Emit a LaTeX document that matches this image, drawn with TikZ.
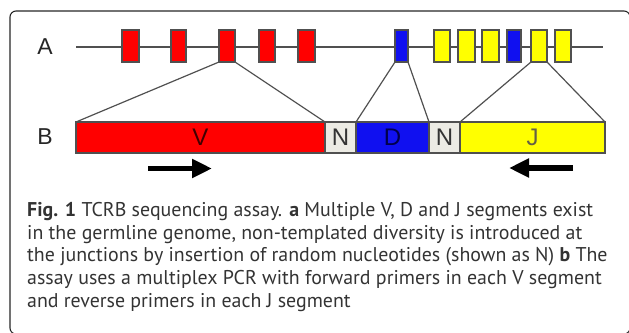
\documentclass[tikz,border=0pt]{standalone}
\usepackage{fontspec}
\setmainfont{PT Sans}
\newfontfamily\arialfont{Liberation Sans}
\usetikzlibrary{arrows.meta}
\definecolor{segred}{HTML}{FF0000}
\definecolor{segblue}{HTML}{1010F0}
\definecolor{segyellow}{HTML}{FFFF00}
\definecolor{segn}{HTML}{ECEBE4}
\definecolor{edgegray}{HTML}{505050}
\definecolor{captxt}{HTML}{333333}
\begin{document}
\begin{tikzpicture}[x=1pt,y=-1pt,
  seg/.style={draw=edgegray, line width=1.1pt, inner sep=0pt, outer sep=0pt, minimum height=32pt},
  vseg/.style={seg, fill=segred},
  dseg/.style={seg, fill=segblue},
  jseg/.style={seg, fill=segyellow},
  nseg/.style={seg, fill=segn},
  barlab/.style={font=\arialfont\fontsize{24}{24}\selectfont},
  zoomline/.style={draw=edgegray, line width=1.2pt},
  primer/.style={line width=5.5pt, -{Triangle[length=20pt,width=18pt]}, black},
  rowlab/.style={font=\arialfont\fontsize{23}{23}\selectfont, text=black!85, inner sep=0pt}
]
\useasboundingbox (0,0) rectangle (629,332);
% frame
\draw[black!85, line width=1.1pt, rounded corners=6pt] (10,11) rectangle (630,334);
% row labels
\node[rowlab] (labA) at (45,47) {A};
\node[rowlab] (labB) at (45,137) {B};
% germline
\coordinate (gl0) at (76,47);
\coordinate (gl1) at (603,47);
\draw[edgegray, line width=2pt] (gl0) -- (gl1);
% segments in A
\node[vseg, minimum width=17pt] (v1) at (130.5,46) {};
\node[vseg, minimum width=15pt] (v2) at (178.5,46) {};
\node[vseg, minimum width=16pt] (v3) at (227,46) {};
\node[vseg, minimum width=16pt] (v4) at (267,46) {};
\node[vseg, minimum width=17pt] (v5) at (306.5,46) {};
\node[dseg, minimum width=13pt] (d1) at (401.5,46) {};
\node[jseg, minimum width=16pt] (j1) at (442,46) {};
\node[jseg, minimum width=17pt] (j2) at (466.5,46) {};
\node[jseg, minimum width=17pt] (j3) at (490.5,46) {};
\node[dseg, minimum width=14pt] (d2) at (514,46) {};
\node[jseg, minimum width=16pt] (j4) at (539,46) {};
\node[jseg, minimum width=16pt] (j5) at (563,46) {};
% rearranged row B
\node[vseg, minimum width=249pt, minimum height=31pt, barlab, text=black!75!red] (V) at (200.5,137.5) {V};
\node[nseg, minimum width=31pt, minimum height=31pt, barlab, text=black!80] (N1) at (340.5,137.5) {N};
\node[dseg, minimum width=73pt, minimum height=31pt, barlab, text=black!70!blue] (D) at (392.5,137.5) {D};
\node[nseg, minimum width=31pt, minimum height=31pt, barlab, text=black!80] (N2) at (444.5,137.5) {N};
\node[jseg, minimum width=145pt, minimum height=31pt, barlab, text=black!70!yellow] (J) at (532.5,137.5) {J};
% zoom lines
\draw[zoomline] (v3.south west) -- (V.north west);
\draw[zoomline] (v3.south east) -- (V.north east);
\draw[zoomline] (d1.south west) -- (D.north west);
\draw[zoomline] (d1.south east) -- (D.north east);
\draw[zoomline] (j4.south west) -- (J.north west);
\draw[zoomline] (j4.south east) -- (J.north east);
% primers
\coordinate (fw0) at (148,168.5);
\coordinate (fw1) at (212,168.5);
\coordinate (rv0) at (573,168);
\coordinate (rv1) at (509,168);
\draw[primer] (fw0) -- (fw1);
\draw[primer] (rv0) -- (rv1);
% caption
\node[anchor=north west, inner sep=0pt, align=left, text=captxt,
      font=\fontsize{19.9}{22.8}\selectfont] (cap) at (27,202)
{\textbf{Fig. 1} TCRB sequencing assay. \textbf{a} Multiple V, D and J segments exist\\
in the germline genome, non-templated diversity is introduced at\\
the junctions by insertion of random nucleotides (shown as N) \textbf{b} The\\
assay uses a multiplex PCR with forward primers in each V segment\\
and reverse primers in each J segment};
\end{tikzpicture}
\end{document}
